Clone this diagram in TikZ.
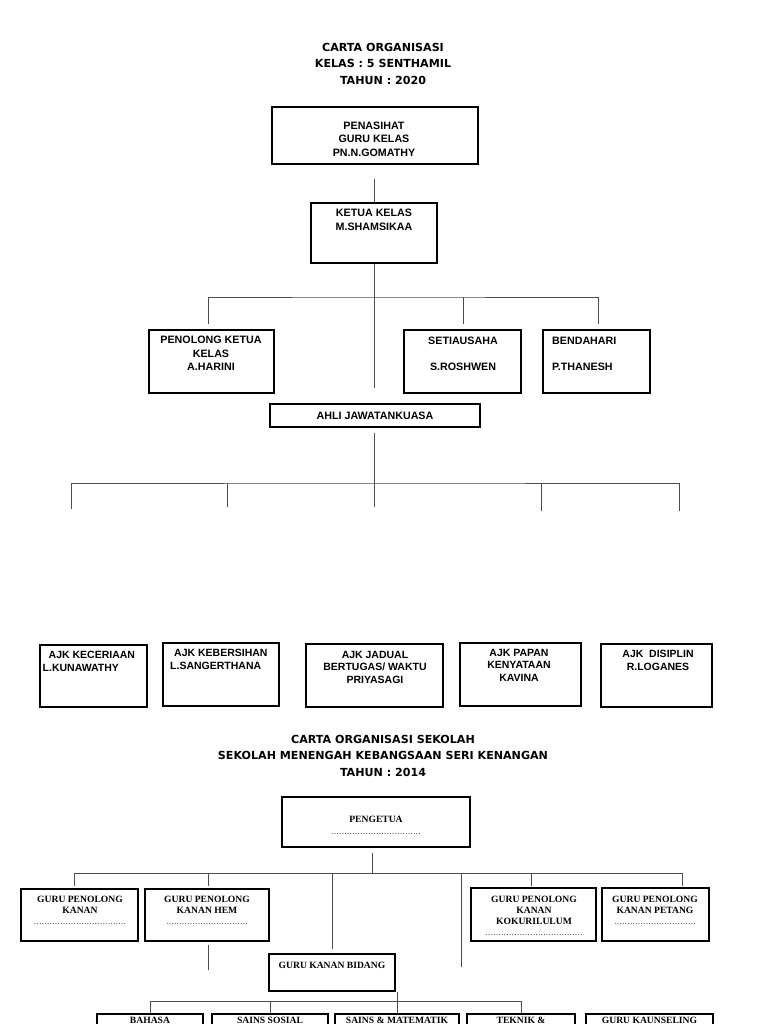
\documentclass[tikz,border=0pt]{standalone}
\usepackage{fontspec}
\setmainfont{Liberation Sans}
\newfontfamily\judulfont{DejaVu Sans}
\newfontfamily\seriffont{Liberation Serif}
\usetikzlibrary{positioning}
\newcommand{\titik}[1]{\makebox[#1pt]{\fontsize{6}{6}\selectfont\dotfill}}

\begin{document}
\begin{tikzpicture}[x=1pt,y=-1pt,
  kotak/.style={draw, line width=1.2pt, inner sep=0pt},
  teks/.style={inner sep=0pt, align=center, font=\bfseries\fontsize{10.7}{13.5}\selectfont},
  teksajk/.style={inner sep=0pt, align=center, font=\bfseries\fontsize{10.5}{12.5}\selectfont},
  teksk/.style={inner sep=0pt, align=center, font=\seriffont\bfseries\fontsize{9.6}{11}\selectfont},
  judul/.style={inner sep=0pt, align=center, font=\judulfont\bfseries\fontsize{11.1}{16.5}\selectfont},
  garis/.style={line width=0.9pt, black!70}]
  \fill[white] (0,0) rectangle (768,1024);
  \useasboundingbox (0,0) rectangle (768,1024);

  % carta kelas
  \node[judul, anchor=north] (judul1) at (383,43) {CARTA ORGANISASI\\KELAS : 5 SENTHAMIL\\TAHUN : 2020};

  \node[kotak, minimum width=206pt, minimum height=57pt] (penasihat) at (375,135.5) {};
  \node[teks, anchor=north] (penasihat-t) at (374,121.5) {PENASIHAT\\GURU KELAS\\PN.N.GOMATHY};

  \node[kotak, minimum width=126pt, minimum height=60pt] (ketua) at (374,233) {};
  \node[teks, anchor=north] (ketua-t) at (374,209) {KETUA KELAS\\M.SHAMSIKAA};

  \node[kotak, minimum width=125pt, minimum height=63pt] (penolong) at (211.5,361.5) {};
  \node[teks, anchor=north] (penolong-t) at (211,336) {PENOLONG KETUA\\KELAS\\A.HARINI};

  \node[kotak, minimum width=117pt, minimum height=63pt] (setia) at (462.5,361.5) {};
  \node[teks, anchor=north] (setia-t) at (463,337) {SETIAUSAHA\\[12.5pt]S.ROSHWEN};

  \node[kotak, minimum width=107pt, minimum height=63pt] (bendahari) at (596.5,361.5) {};
  \node[teks, anchor=north west, align=left] (bendahari-t) at (552,337) {BENDAHARI\\[12.5pt]P.THANESH};

  \node[kotak, teks, minimum width=210pt, minimum height=23pt] (ahli) at (375,415.5) {AHLI JAWATANKUASA};

  \coordinate (a1) at (374,179);
  \coordinate (a2) at (374,388);
  \coordinate (bar1) at (374,297);
  \coordinate (b1) at (208,324);
  \coordinate (b2) at (463,324);
  \coordinate (b3) at (598,324);
  \draw[garis] (a1) -- (ketua.north);
  \draw[garis] (ketua.south) -- (a2);
  \draw[garis] (b1) |- (bar1) -| (b3);
  \draw[garis] (b2) -- (b2 |- bar1);

  \coordinate (c0) at (374,433);
  \coordinate (c1) at (374,507);
  \coordinate (bar2) at (374,483);
  \coordinate (d1) at (71,509);
  \coordinate (d2) at (227,507);
  \coordinate (d4) at (541,511);
  \coordinate (d5) at (679,511);
  \draw[garis] (c0) -- (c1);
  \draw[garis] (d1) |- (bar2) -| (d5);
  \draw[garis] (d2) -- (d2 |- bar2);
  \draw[garis] (d4) -- (d4 |- bar2);

  % ajk
  \node[kotak, minimum width=107pt, minimum height=62pt] (ceria) at (93.5,676) {};
  \node[teksajk, anchor=north west, align=left] (ceria-t) at (42.5,651) {\hspace*{6pt}AJK KECERIAAN\\L.KUNAWATHY};
  \node[kotak, minimum width=116pt, minimum height=63pt] (bersih) at (221,674.5) {};
  \node[teksajk, anchor=north west, align=left] (bersih-t) at (170,649) {\hspace*{4pt}AJK KEBERSIHAN\\L.SANGERTHANA};
  \node[kotak, minimum width=137pt, minimum height=63pt] (jadual) at (374.5,675.5) {};
  \node[teksajk, anchor=north] (jadual-t) at (375,651) {AJK JADUAL\\BERTUGAS/ WAKTU\\PRIYASAGI};
  \node[kotak, minimum width=121pt, minimum height=63pt] (papan) at (520.5,674.5) {};
  \node[teksajk, anchor=north] (papan-t) at (519,649) {AJK PAPAN\\KENYATAAN\\KAVINA};
  \node[kotak, minimum width=111pt, minimum height=63pt] (disiplin) at (656.5,675.5) {};
  \node[teksajk, anchor=north] (disiplin-t) at (658,650) {AJK\ \ DISIPLIN\\R.LOGANES};

  % carta sekolah
  \node[judul, anchor=north] (judul2) at (383,735) {CARTA ORGANISASI SEKOLAH\\SEKOLAH MENENGAH KEBANGSAAN SERI KENANGAN\\TAHUN : 2014};

  \node[kotak, minimum width=188pt, minimum height=50pt] (pengetua) at (376,822) {};
  \node[teksk, anchor=north] (pengetua-t) at (376,816) {PENGETUA\\[1pt]\titik{91}};

  \node[kotak, minimum width=117pt, minimum height=52pt] (kanan) at (79.5,915) {};
  \node[teksk, anchor=north] (kanan-t) at (80,896) {GURU PENOLONG\\KANAN\\\titik{95}};
  \node[kotak, minimum width=124pt, minimum height=52pt] (hem) at (207,915) {};
  \node[teksk, anchor=north] (hem-t) at (207,896) {GURU PENOLONG\\KANAN HEM\\\titik{83}};
  \node[kotak, minimum width=125pt, minimum height=53pt] (koku) at (533.5,914.5) {};
  \node[teksk, anchor=north] (koku-t) at (534,896) {GURU PENOLONG\\KANAN\\KOKURILULUM\\\titik{98}};
  \node[kotak, minimum width=107pt, minimum height=53pt] (petang) at (655.5,914.5) {};
  \node[teksk, anchor=north] (petang-t) at (655,896) {GURU PENOLONG\\KANAN PETANG\\\titik{83}};

  \node[kotak, minimum width=126pt, minimum height=37pt] (bidang) at (332,972.5) {};
  \node[teksk, anchor=north] (bidang-t) at (332,962) {GURU KANAN BIDANG};

  \node[kotak, minimum width=106pt, minimum height=40pt] (bahasa) at (150,1034) {};
  \node[teksk, anchor=north] (bahasa-t) at (150,1017) {BAHASA};
  \node[kotak, minimum width=116pt, minimum height=40pt] (sosial) at (270,1034) {};
  \node[teksk, anchor=north] (sosial-t) at (270,1017) {SAINS SOSIAL};
  \node[kotak, minimum width=124pt, minimum height=40pt] (matematik) at (397,1034) {};
  \node[teksk, anchor=north] (matematik-t) at (397,1017) {SAINS \& MATEMATIK};
  \node[kotak, minimum width=108pt, minimum height=40pt] (teknik) at (521,1034) {};
  \node[teksk, anchor=north] (teknik-t) at (521,1017) {TEKNIK \&};
  \node[kotak, minimum width=127pt, minimum height=40pt] (kaunseling) at (649.5,1034) {};
  \node[teksk, anchor=north] (kaunseling-t) at (649.5,1017) {GURU KAUNSELING};

  \coordinate (e0) at (372,853);
  \coordinate (bar3) at (372,873);
  \coordinate (f1) at (74,886);
  \coordinate (f2) at (208,886);
  \coordinate (f3) at (332,949);
  \coordinate (f4) at (461,967);
  \coordinate (f5) at (531,886);
  \coordinate (f6) at (682,886);
  \coordinate (g1) at (208,945);
  \coordinate (g2) at (208,970);
  \draw[garis] (e0) -- (bar3);
  \draw[garis] (f1) |- (bar3) -| (f6);
  \draw[garis] (f2) -- (f2 |- bar3);
  \draw[garis] (f3) -- (f3 |- bar3);
  \draw[garis] (f4) -- (f4 |- bar3);
  \draw[garis] (f5) -- (f5 |- bar3);
  \draw[garis] (g1) -- (g2);

  \coordinate (bar4) at (397,1001);
  \draw[garis] (bahasa.north) |- (bar4) -| (teknik.north);
  \draw[garis] (sosial.north) -- (sosial.north |- bar4);
  \draw[garis] (bidang.south -| matematik.north) -- (matematik.north);
\end{tikzpicture}
\end{document}
